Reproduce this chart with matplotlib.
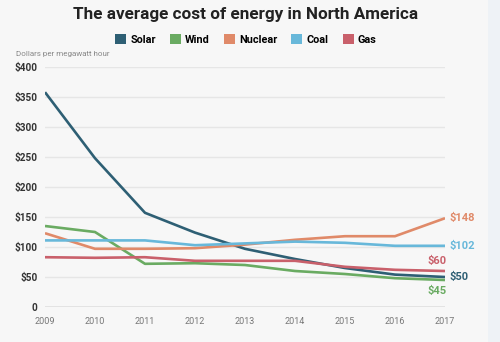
import matplotlib
matplotlib.use("Agg")
import matplotlib.pyplot as plt
from matplotlib.patches import Rectangle

years = [2009, 2010, 2011, 2012, 2013, 2014, 2015, 2016, 2017]
solar = [358, 248, 157, 124, 97, 80, 65, 54, 50]
wind = [135, 125, 72, 73, 70, 60, 55, 48, 45]
nuclear = [123, 97, 97, 98, 104, 112, 118, 118, 148]
coal = [111, 111, 111, 103, 106, 109, 107, 102, 102]
gas = [83, 82, 83, 77, 77, 77, 67, 62, 60]

series_names = ["Solar", "Wind", "Nuclear", "Coal", "Gas"]
series_values = [solar, wind, nuclear, coal, gas]
colors = ["#2e5f74", "#6aab62", "#e08a69", "#68b8da", "#c9606b"]
yticks = [0, 50, 100, 150, 200, 250, 300, 350, 400]
ytick_labels = ["0", "$50", "$100", "$150", "$200", "$250", "$300", "$350", "$400"]

plt.rcParams["font.family"] = ["Roboto", "DejaVu Sans"]

fig = plt.figure(figsize=(5.0, 3.42), dpi=100)
fig.patch.set_facecolor("#f7f7f7")
fig.patches.append(Rectangle((0.976, 0), 0.024, 1, transform=fig.transFigure,
                             facecolor="#eef2f6", edgecolor="none", zorder=0))

ax = fig.add_axes([0.09, 0.1023, 0.80, 0.7018])
ax.set_facecolor("#f7f7f7")
for s in ax.spines.values():
    s.set_visible(False)

ax.set_xlim(2009, 2017)
ax.set_ylim(0, 400)
ax.set_yticks(yticks)
ax.set_yticklabels(ytick_labels, fontsize=7.2, fontweight="bold", color="#333333")
ax.set_xticks(years)
ax.set_xticklabels([str(y) for y in years], fontsize=6.5, color="#777777")
ax.tick_params(axis="both", length=0)
ax.tick_params(axis="y", pad=5.5)
ax.tick_params(axis="x", pad=7)
ax.grid(axis="y", color="#e6e6e6", linewidth=1.0)
ax.grid(axis="x", visible=False)
ax.axhline(0, color="#dddddd", linewidth=1.8, zorder=1)

for name, vals, c in zip(series_names, series_values, colors):
    ax.plot(years, vals, color=c, linewidth=1.9, label=name, zorder=3,
            solid_capstyle="butt")

# value labels at the end of each line
end_offsets = {"Solar": (3, 0), "Wind": (1, -8), "Nuclear": (3, 0),
               "Coal": (3, 0), "Gas": (1, 7)}
for name, vals, c in zip(series_names, series_values, colors):
    dx, dy = end_offsets[name]
    ha = "left" if dx > 2 else "right"
    ax.annotate(f"${vals[-1]}", xy=(years[-1], vals[-1]), xytext=(dx, dy),
                textcoords="offset points", ha=ha, va="center",
                fontsize=8, fontweight="bold", color=c, annotation_clip=False)

fig.text(0.492, 0.958, "The average cost of energy in North America",
         ha="center", va="center", fontsize=12.3, fontweight="bold", color="#222222")

handles = [Rectangle((0, 0), 1, 1, facecolor=c) for c in colors]
fig.legend(handles, series_names, loc="center", bbox_to_anchor=(0.492, 0.885),
           ncol=5, frameon=False, handlelength=1.0, handleheight=1.0,
           handletextpad=0.4, columnspacing=1.3, prop={"weight": "bold", "size": 7.8})

fig.text(0.032, 0.843, "Dollars per megawatt hour", ha="left", va="center",
         fontsize=5.8, color="#888888")

fig.savefig("out.png", dpi=100, facecolor=fig.get_facecolor())
